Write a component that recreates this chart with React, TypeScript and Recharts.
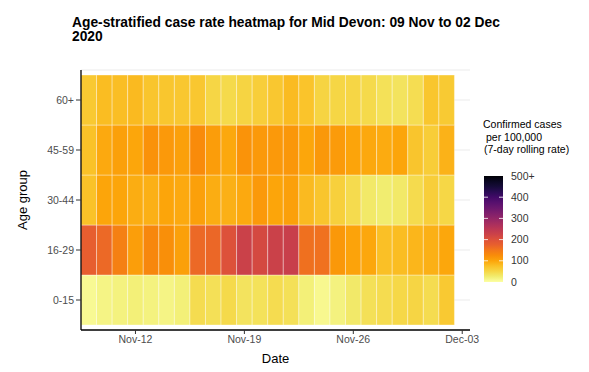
import { ComposedChart, Scatter, XAxis, YAxis, CartesianGrid, ReferenceArea } from "recharts";

// one column per day, 09 Nov to 02 Dec 2020
const dates = [
  "2020-11-09", "2020-11-10", "2020-11-11", "2020-11-12", "2020-11-13", "2020-11-14",
  "2020-11-15", "2020-11-16", "2020-11-17", "2020-11-18", "2020-11-19", "2020-11-20",
  "2020-11-21", "2020-11-22", "2020-11-23", "2020-11-24", "2020-11-25", "2020-11-26",
  "2020-11-27", "2020-11-28", "2020-11-29", "2020-11-30", "2020-12-01", "2020-12-02",
];

// bottom to top
const ageGroups = ["0-15", "16-29", "30-44", "45-59", "60+"];

// confirmed cases per 100,000 (7-day rolling rate)
const rate0to15 = [8, 15, 18, 21, 18, 15, 21, 44, 40, 47, 36, 38, 44, 40, 21, 10, 18, 29, 40, 44, 49, 52, 44, 66];
const rate16to29 = [178, 166, 140, 107, 132, 123, 105, 166, 168, 200, 228, 213, 228, 231, 158, 157, 114, 102, 98, 76, 79, 85, 90, 98];
const rate30to44 = [74, 100, 100, 93, 90, 100, 96, 105, 93, 90, 96, 112, 100, 105, 81, 70, 58, 45, 30, 25, 30, 45, 60, 50];
const rate45to59 = [74, 96, 105, 99, 120, 112, 105, 127, 108, 97, 119, 112, 112, 115, 99, 114, 110, 101, 97, 95, 100, 70, 61, 88];
const rate60plus = [66, 79, 78, 81, 70, 69, 68, 68, 51, 47, 53, 60, 68, 80, 72, 53, 51, 51, 47, 39, 36, 43, 69, 65];

const xTicks = [3, 10, 17, 24];
const xTickLabels = ["Nov-12", "Nov-19", "Nov-26", "Dec-03"];

const legendBreaks = [0, 100, 200, 300, 400, 500];
const legendLabels = ["0", "100", "200", "300", "400", "500+"];

// inferno palette, dark to light
const inferno = [
  "#000004", "#0A0722", "#160B39", "#2A0B54", "#420A68", "#57106E", "#6A176E",
  "#7F1E6C", "#932667", "#A82E5F", "#BC3754", "#CC4248", "#DD513A", "#E8602D",
  "#F37819", "#F98D09", "#FCA50A", "#FAC127", "#F6D746", "#F1ED70", "#FCFFA4",
];

const hexToRgb = (h: string) => [1, 3, 5].map((i) => parseInt(h.slice(i, i + 2), 16));

// 0 -> light yellow, 500 -> black
const rateColor = (v: number) => {
  const t = 1 - Math.min(Math.max(v, 0), 500) / 500;
  const pos = t * (inferno.length - 1);
  const i = Math.min(Math.floor(pos), inferno.length - 2);
  const f = pos - i;
  const a = hexToRgb(inferno[i]);
  const b = hexToRgb(inferno[i + 1]);
  const c = a.map((ch, k) => Math.round(ch + (b[k] - ch) * f));
  return `rgb(${c[0]},${c[1]},${c[2]})`;
};

const rows = [rate0to15, rate16to29, rate30to44, rate45to59, rate60plus];
const cells = rows.flatMap((vals, r) => vals.map((v, i) => ({ x: i, y: r, rate: v, date: dates[i] })));

const FONT = "'Liberation Sans', Arial, sans-serif";
const tickStyle = { fontSize: 10.5, fill: "#4D4D4D", fontFamily: FONT };

// colour bar geometry
const barX = 484;
const barTop = 176;
const barBottom = 282;
const barW = 19;
const barY = (v: number) => barBottom - (v / 500) * (barBottom - barTop);

const App = () => {
  return (
    <div style={{ position: "absolute", left: 0, top: 0, width: 589, height: 372, background: "#fff" }}>
      <ComposedChart width={589} height={372} margin={{ top: 70, right: 119, bottom: 2, left: 0 }}>
        <CartesianGrid horizontal vertical={false} stroke="#EBEBEB" />
        <XAxis
          type="number"
          dataKey="x"
          domain={[-0.5, 24.5]}
          allowDataOverflow
          ticks={xTicks}
          tickFormatter={(v: number) => xTickLabels[xTicks.indexOf(v)]}
          height={40}
          tickSize={4}
          tickMargin={2}
          tick={tickStyle}
          axisLine={{ stroke: "#000", strokeWidth: 1.3 }}
          tickLine={{ stroke: "#333" }}
        />
        <YAxis
          type="number"
          dataKey="y"
          domain={[-0.6, 4.6]}
          allowDataOverflow
          ticks={[0, 1, 2, 3, 4]}
          tickFormatter={(v: number) => ageGroups[v]}
          width={81}
          tickSize={5}
          tickMargin={2}
          tick={tickStyle}
          axisLine={{ stroke: "#000", strokeWidth: 1.3 }}
          tickLine={{ stroke: "#333" }}
        />
        {cells.map((c) => (
          <ReferenceArea
            key={`${c.x}-${c.y}`}
            x1={c.x - 0.5}
            x2={c.x + 0.5}
            y1={c.y - 0.5}
            y2={c.y + 0.5}
            fill={rateColor(c.rate)}
            fillOpacity={1}
            stroke="#fff"
            strokeWidth={0.6}
            strokeOpacity={0.6}
            ifOverflow="visible"
          />
        ))}
        <Scatter data={cells} dataKey="y" fill="none" shape={() => <g />} isAnimationActive={false} />
      </ComposedChart>

      <svg width={589} height={372} style={{ position: "absolute", left: 0, top: 0, pointerEvents: "none" }}>
        <defs>
          <linearGradient id="rateGrad" x1="0" y1="1" x2="0" y2="0">
            {inferno
              .slice()
              .reverse()
              .map((col, k) => (
                <stop key={k} offset={k / (inferno.length - 1)} stopColor={col} />
              ))}
          </linearGradient>
        </defs>

        {/* title */}
        <text x={72} y={27} fontFamily={FONT} fontWeight="bold" fontSize={13.8} fill="#000">
          Age-stratified case rate heatmap for Mid Devon: 09 Nov to 02 Dec
        </text>
        <text x={72} y={41} fontFamily={FONT} fontWeight="bold" fontSize={13.8} fill="#000">
          2020
        </text>

        {/* axis titles */}
        <text x={275.5} y={363} textAnchor="middle" fontFamily={FONT} fontSize={13} fill="#000">
          Date
        </text>
        <text
          x={27}
          y={200}
          textAnchor="middle"
          transform="rotate(-90, 27, 200)"
          fontFamily={FONT}
          fontSize={13}
          fill="#000"
        >
          Age group
        </text>

        {/* legend */}
        <text fontFamily={FONT} fontSize={10.5} fill="#000">
          <tspan x={483} y={128}>Confirmed cases</tspan>
          <tspan x={486} y={141}>per 100,000</tspan>
          <tspan x={484} y={153}>(7-day rolling rate)</tspan>
        </text>
        <rect x={barX} y={barTop} width={barW} height={barBottom - barTop} fill="url(#rateGrad)" />
        {legendBreaks.map((b, k) => (
          <g key={b}>
            {b > 0 && b < 500 && (
              <>
                <line x1={barX} x2={barX + 4} y1={barY(b)} y2={barY(b)} stroke="#fff" strokeWidth={0.8} />
                <line x1={barX + barW - 4} x2={barX + barW} y1={barY(b)} y2={barY(b)} stroke="#fff" strokeWidth={0.8} />
              </>
            )}
            <text x={511} y={barY(b) + 3.6} fontFamily={FONT} fontSize={10.5} fill="#333">
              {legendLabels[k]}
            </text>
          </g>
        ))}
      </svg>
    </div>
  );
};

export default App;
